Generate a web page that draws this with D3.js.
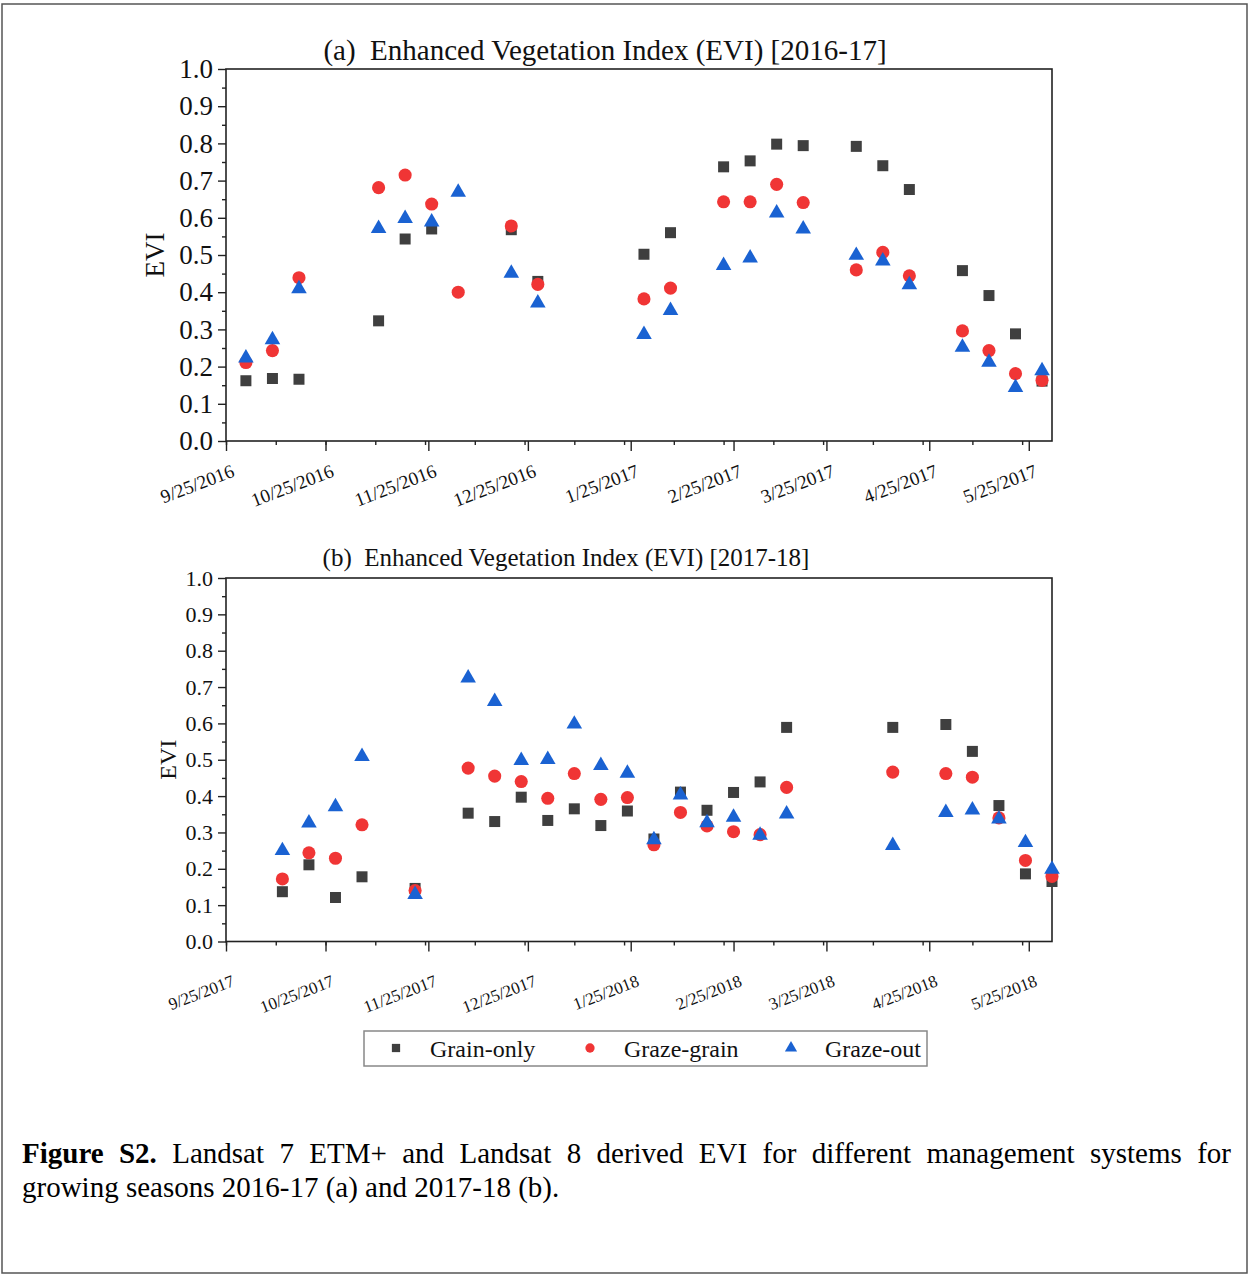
<!DOCTYPE html>
<html>
<head>
<meta charset="utf-8">
<script src="https://cdn.jsdelivr.net/npm/d3@7"></script>
<style>
  body { margin: 0; background: #fff; }
  svg { display: block; font-family: "Liberation Serif", "Times New Roman", serif; }
</style>
</head>
<body>
<svg id="fig" width="1249" height="1274"></svg>
<script>
// series names
const seriesNames = ["Grain-only", "Graze-grain", "Graze-out"];

// (a) 2016-17 acquisition dates and EVI values
const datesA = ["10/1/2016", "10/9/2016", "10/17/2016", "11/10/2016", "11/18/2016", "11/26/2016",
  "12/4/2016", "12/20/2016", "12/28/2016", "1/29/2017", "2/6/2017", "2/22/2017", "3/2/2017",
  "3/10/2017", "3/18/2017", "4/3/2017", "4/11/2017", "4/19/2017", "5/5/2017", "5/13/2017",
  "5/21/2017", "5/29/2017"];
const grainOnlyA = [0.162, 0.168, 0.166, 0.323, 0.543, 0.570, null, 0.568, 0.429, 0.502, 0.560,
  0.737, 0.753, 0.798, 0.794, 0.792, 0.740, 0.676, 0.458, 0.391, 0.288, 0.161];
const grazeGrainA = [0.211, 0.243, 0.439, 0.681, 0.715, 0.637, 0.400, 0.578, 0.421, 0.382, 0.411,
  0.643, 0.643, 0.690, 0.641, 0.460, 0.507, 0.444, 0.296, 0.243, 0.181, 0.163];
const grazeOutA = [0.223, 0.272, 0.409, 0.571, 0.598, 0.589, 0.669, 0.451, 0.371, 0.286, 0.351,
  0.472, 0.492, 0.613, 0.570, 0.499, 0.484, 0.420, 0.252, 0.212, 0.144, 0.189];

// (b) 2017-18 acquisition dates and EVI values
const datesB = ["10/12/2017", "10/20/2017", "10/28/2017", "11/5/2017", "11/21/2017", "12/7/2017",
  "12/15/2017", "12/23/2017", "12/31/2017", "1/8/2018", "1/16/2018", "1/24/2018", "2/1/2018",
  "2/9/2018", "2/17/2018", "2/25/2018", "3/5/2018", "3/13/2018", "4/14/2018", "4/30/2018",
  "5/8/2018", "5/16/2018", "5/24/2018", "6/1/2018"];
const grainOnlyB = [0.137, 0.211, 0.121, 0.178, 0.146, 0.353, 0.330, 0.397, 0.333, 0.365, 0.319,
  0.359, 0.282, 0.411, 0.361, 0.410, 0.439, 0.589, 0.589, 0.597, 0.523, 0.374, 0.186, 0.165];
const grazeGrainB = [0.172, 0.244, 0.229, 0.321, 0.140, 0.477, 0.455, 0.440, 0.394, 0.462, 0.391,
  0.396, 0.266, 0.355, 0.318, 0.302, 0.294, 0.424, 0.466, 0.462, 0.452, 0.340, 0.223, 0.179];
const grazeOutB = [0.250, 0.326, 0.371, 0.509, 0.129, 0.725, 0.660, 0.498, 0.501, 0.598, 0.484,
  0.463, 0.280, 0.403, 0.327, 0.342, 0.292, 0.351, 0.264, 0.355, 0.362, 0.337, 0.272, 0.199];

// x tick labels
const ticksA = ["9/25/2016", "10/25/2016", "11/25/2016", "12/25/2016", "1/25/2017",
  "2/25/2017", "3/25/2017", "4/25/2017", "5/25/2017"];
const ticksB = ["9/25/2017", "10/25/2017", "11/25/2017", "12/25/2017", "1/25/2018",
  "2/25/2018", "3/25/2018", "4/25/2018", "5/25/2018"];

const parse = d3.timeParse("%m/%d/%Y");
const svg = d3.select("#fig");

const colors = ["#3f3f3f", "#f03535", "#1a62d2"];
const shapes = [d3.symbolSquare, d3.symbolCircle, d3.symbolTriangle];
const sizes = [121, 135, 105];

// outer figure border
svg.append("rect")
  .attr("x", 2).attr("y", 4).attr("width", 1245).attr("height", 1269)
  .attr("fill", "none").attr("stroke", "#555").attr("stroke-width", 1.5);

function drawPanel(opt) {
  const left = 226, right = 1052;
  const start = parse(opt.ticks[0]);
  const end = d3.timeDay.offset(start, 249);
  const x = d3.scaleTime().domain([start, end]).range([left, right]);
  const y = d3.scaleLinear().domain([0, 1]).range([opt.bottom, opt.top]);
  const g = svg.append("g");

  // minor x ticks every 15 days
  g.append("g")
    .attr("transform", `translate(0,${opt.bottom})`)
    .call(d3.axisBottom(x).tickValues(d3.timeDay.range(start, end, 15)).tickSize(4).tickFormat(""))
    .call(a => a.select(".domain").remove());

  // major x ticks
  const xa = g.append("g")
    .attr("transform", `translate(0,${opt.bottom})`)
    .call(d3.axisBottom(x).tickValues(opt.ticks.map(parse)).tickSize(10)
      .tickFormat(d3.timeFormat("%-m/%-d/%Y")));
  xa.select(".domain").remove();
  xa.selectAll("text")
    .attr("x", 0).attr("y", 0).attr("dy", 0)
    .attr("text-anchor", "end")
    .attr("transform", `translate(9,${opt.xLabOff}) rotate(-21)`)
    .style("font-family", "Liberation Serif")
    .style("font-size", opt.xFont + "px")
    .attr("fill", "#111");

  // minor y ticks
  g.append("g")
    .attr("transform", `translate(${left},0)`)
    .call(d3.axisLeft(y).tickValues(d3.range(0.05, 1, 0.1)).tickSize(4).tickFormat(""))
    .call(a => a.select(".domain").remove());

  const ya = g.append("g")
    .attr("transform", `translate(${left},0)`)
    .call(d3.axisLeft(y).tickValues(d3.range(0, 1.05, 0.1)).tickSize(8).tickPadding(5)
      .tickFormat(d3.format(".1f")));
  ya.select(".domain").remove();
  ya.selectAll("text")
    .style("font-family", "Liberation Serif")
    .style("font-size", opt.yFont + "px")
    .attr("fill", "#111");

  g.selectAll(".tick line").attr("stroke", "#222").attr("stroke-width", 1.4);

  // plot frame
  g.append("rect")
    .attr("x", left).attr("y", opt.top)
    .attr("width", right - left).attr("height", opt.bottom - opt.top)
    .attr("fill", "none").attr("stroke", "#222").attr("stroke-width", 1.6);

  // y label
  g.append("text")
    .attr("transform", `translate(${opt.yLabX},${(opt.top + opt.bottom) / 2}) rotate(-90)`)
    .attr("text-anchor", "middle")
    .attr("dy", "0.35em")
    .style("font-size", opt.yLabFont + "px")
    .attr("fill", "#111")
    .text("EVI");

  // title
  g.append("text")
    .attr("x", opt.titleX).attr("y", opt.titleY)
    .attr("text-anchor", "middle")
    .style("font-size", opt.titleFont + "px")
    .style("white-space", "pre")
    .attr("fill", "#111")
    .text(opt.title);

  // points: squares, then circles, then triangles on top
  const dates = opt.dates.map(parse);
  opt.series.forEach((vals, i) => {
    const pts = vals.map((v, j) => ({ date: dates[j], value: v })).filter(d => d.value != null);
    g.append("g").selectAll("path")
      .data(pts)
      .enter().append("path")
      .attr("transform", d => `translate(${x(d.date)},${y(d.value)})`)
      .attr("d", d3.symbol().type(shapes[i]).size(sizes[i]))
      .attr("fill", colors[i]);
  });
}

drawPanel({
  ticks: ticksA, dates: datesA, series: [grainOnlyA, grazeGrainA, grazeOutA],
  top: 69, bottom: 441, xFont: 19, xLabOff: 35, yFont: 27, yLabFont: 27, yLabX: 155,
  title: "(a)  Enhanced Vegetation Index (EVI) [2016-17]", titleX: 605, titleY: 60, titleFont: 29
});

drawPanel({
  ticks: ticksB, dates: datesB, series: [grainOnlyB, grazeGrainB, grazeOutB],
  top: 578, bottom: 941.5, xFont: 17, xLabOff: 44, yFont: 22, yLabFont: 24, yLabX: 168,
  title: "(b)  Enhanced Vegetation Index (EVI) [2017-18]", titleX: 566, titleY: 566, titleFont: 25
});

// legend
const leg = svg.append("g");
leg.append("rect")
  .attr("x", 364).attr("y", 1031).attr("width", 563).attr("height", 35)
  .attr("fill", "#fff").attr("stroke", "#888").attr("stroke-width", 1.5);
const legX = [396, 590, 791];
seriesNames.forEach((name, i) => {
  leg.append("path")
    .attr("transform", `translate(${legX[i]},1048)`)
    .attr("d", d3.symbol().type(shapes[i]).size(i === 2 ? 64 : 68))
    .attr("fill", colors[i]);
  leg.append("text")
    .attr("x", legX[i] + 34).attr("y", 1057)
    .style("font-size", "24px")
    .attr("fill", "#111")
    .text(name);
});

// caption, first line justified
const capFont = 29;
const line1 = ["Landsat", "7", "ETM+", "and", "Landsat", "8", "derived", "EVI", "for",
  "different", "management", "systems", "for"];
const cap = svg.append("g").style("font-size", capFont + "px").attr("fill", "#000");
const words = [{ t: "Figure", b: true }, { t: "S2.", b: true }].concat(line1.map(t => ({ t, b: false })));
const nodes = words.map(w => cap.append("text")
  .attr("y", 1163)
  .style("font-weight", w.b ? "bold" : "normal")
  .text(w.t));
const widths = nodes.map(n => n.node().getComputedTextLength());
const gap = (1231 - 22 - d3.sum(widths)) / (words.length - 1);
let cx = 22;
nodes.forEach((n, i) => { n.attr("x", cx); cx += widths[i] + gap; });
cap.append("text")
  .attr("x", 22).attr("y", 1197)
  .text("growing seasons 2016-17 (a) and 2017-18 (b).");
</script>
</body>
</html>
